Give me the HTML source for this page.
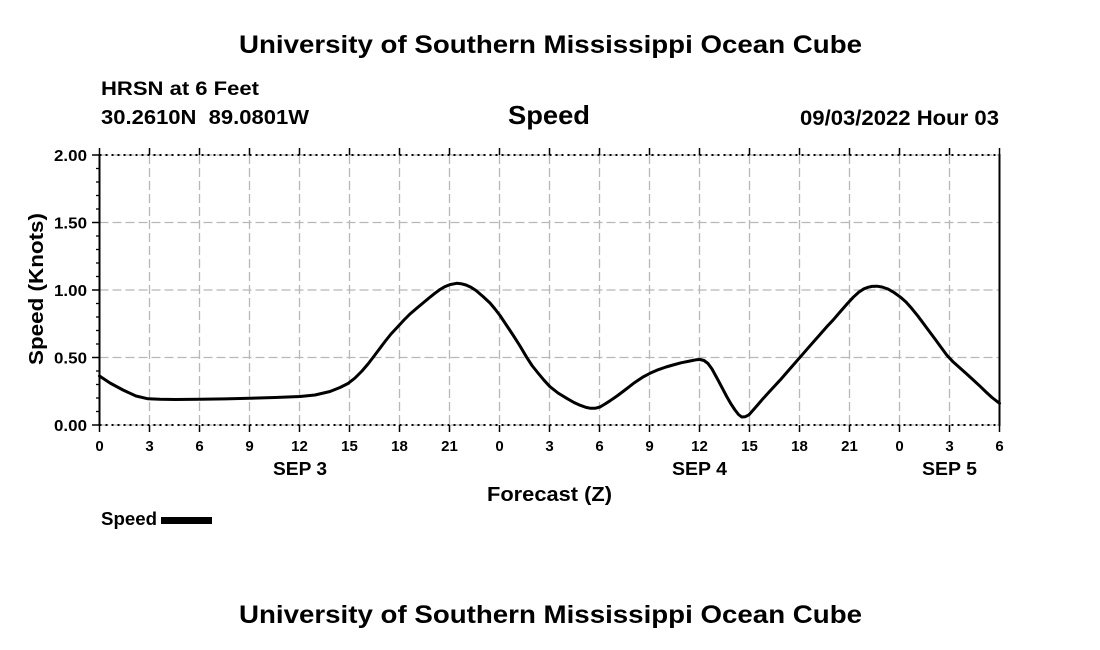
<!DOCTYPE html>
<html>
<head>
<meta charset="utf-8">
<style>
  html, body { margin: 0; padding: 0; background: #ffffff; }
  svg { display: block; }
  text { font-family: "Liberation Sans", Arial, sans-serif; font-weight: bold; fill: #000; }
</style>
</head>
<body>
<svg width="1100" height="650" viewBox="0 0 1100 650" xmlns="http://www.w3.org/2000/svg">
  <rect x="0" y="0" width="1100" height="650" fill="#ffffff"/>

  <!-- Titles -->
  <text x="239" y="53" font-size="25" textLength="623" lengthAdjust="spacingAndGlyphs">University of Southern Mississippi Ocean Cube</text>
  <text x="101" y="95" font-size="19" textLength="158" lengthAdjust="spacingAndGlyphs">HRSN at 6 Feet</text>
  <text x="101" y="124" font-size="20" textLength="208" lengthAdjust="spacingAndGlyphs" xml:space="preserve">30.2610N  89.0801W</text>
  <text x="508" y="124" font-size="26" textLength="82" lengthAdjust="spacingAndGlyphs">Speed</text>
  <text x="800" y="125" font-size="21" textLength="199" lengthAdjust="spacingAndGlyphs">09/03/2022 Hour 03</text>

  <!-- Grid -->
  <g stroke="#b8b8b8" stroke-width="1.3" stroke-dasharray="9 4" fill="none">
    <line x1="99.5" y1="222.5" x2="999.5" y2="222.5"/>
    <line x1="99.5" y1="290" x2="999.5" y2="290"/>
    <line x1="99.5" y1="357.5" x2="999.5" y2="357.5"/>
    <line x1="99.5" y1="155" x2="999.5" y2="155"/>
    <line x1="99.5" y1="425" x2="999.5" y2="425"/>
    <line x1="149.5" y1="155" x2="149.5" y2="425"/>
    <line x1="199.5" y1="155" x2="199.5" y2="425"/>
    <line x1="249.5" y1="155" x2="249.5" y2="425"/>
    <line x1="299.5" y1="155" x2="299.5" y2="425"/>
    <line x1="349.5" y1="155" x2="349.5" y2="425"/>
    <line x1="399.5" y1="155" x2="399.5" y2="425"/>
    <line x1="449.5" y1="155" x2="449.5" y2="425"/>
    <line x1="499.5" y1="155" x2="499.5" y2="425"/>
    <line x1="549.5" y1="155" x2="549.5" y2="425"/>
    <line x1="599.5" y1="155" x2="599.5" y2="425"/>
    <line x1="649.5" y1="155" x2="649.5" y2="425"/>
    <line x1="699.5" y1="155" x2="699.5" y2="425"/>
    <line x1="749.5" y1="155" x2="749.5" y2="425"/>
    <line x1="799.5" y1="155" x2="799.5" y2="425"/>
    <line x1="849.5" y1="155" x2="849.5" y2="425"/>
    <line x1="899.5" y1="155" x2="899.5" y2="425"/>
    <line x1="949.5" y1="155" x2="949.5" y2="425"/>
  </g>

  <!-- Top / bottom dotted axes -->
  <g stroke="#000" stroke-width="2" stroke-dasharray="2 4" fill="none">
    <line x1="99.5" y1="155" x2="999.5" y2="155"/>
    <line x1="99.5" y1="425" x2="999.5" y2="425"/>
  </g>

  <!-- Left / right solid axes -->
  <line x1="99.5" y1="154" x2="99.5" y2="426" stroke="#000" stroke-width="2"/>
  <line x1="999.5" y1="154" x2="999.5" y2="426" stroke="#000" stroke-width="2"/>

  <!-- Top & bottom ticks -->
  <g stroke="#000" stroke-width="1.5">
    <line x1="99.5" y1="148" x2="99.5" y2="155"/><line x1="99.5" y1="425" x2="99.5" y2="432"/>
    <line x1="149.5" y1="148" x2="149.5" y2="155"/><line x1="149.5" y1="425" x2="149.5" y2="432"/>
    <line x1="199.5" y1="148" x2="199.5" y2="155"/><line x1="199.5" y1="425" x2="199.5" y2="432"/>
    <line x1="249.5" y1="148" x2="249.5" y2="155"/><line x1="249.5" y1="425" x2="249.5" y2="432"/>
    <line x1="299.5" y1="148" x2="299.5" y2="155"/><line x1="299.5" y1="425" x2="299.5" y2="432"/>
    <line x1="349.5" y1="148" x2="349.5" y2="155"/><line x1="349.5" y1="425" x2="349.5" y2="432"/>
    <line x1="399.5" y1="148" x2="399.5" y2="155"/><line x1="399.5" y1="425" x2="399.5" y2="432"/>
    <line x1="449.5" y1="148" x2="449.5" y2="155"/><line x1="449.5" y1="425" x2="449.5" y2="432"/>
    <line x1="499.5" y1="148" x2="499.5" y2="155"/><line x1="499.5" y1="425" x2="499.5" y2="432"/>
    <line x1="549.5" y1="148" x2="549.5" y2="155"/><line x1="549.5" y1="425" x2="549.5" y2="432"/>
    <line x1="599.5" y1="148" x2="599.5" y2="155"/><line x1="599.5" y1="425" x2="599.5" y2="432"/>
    <line x1="649.5" y1="148" x2="649.5" y2="155"/><line x1="649.5" y1="425" x2="649.5" y2="432"/>
    <line x1="699.5" y1="148" x2="699.5" y2="155"/><line x1="699.5" y1="425" x2="699.5" y2="432"/>
    <line x1="749.5" y1="148" x2="749.5" y2="155"/><line x1="749.5" y1="425" x2="749.5" y2="432"/>
    <line x1="799.5" y1="148" x2="799.5" y2="155"/><line x1="799.5" y1="425" x2="799.5" y2="432"/>
    <line x1="849.5" y1="148" x2="849.5" y2="155"/><line x1="849.5" y1="425" x2="849.5" y2="432"/>
    <line x1="899.5" y1="148" x2="899.5" y2="155"/><line x1="899.5" y1="425" x2="899.5" y2="432"/>
    <line x1="949.5" y1="148" x2="949.5" y2="155"/><line x1="949.5" y1="425" x2="949.5" y2="432"/>
    <line x1="999.5" y1="148" x2="999.5" y2="155"/><line x1="999.5" y1="425" x2="999.5" y2="432"/>
  </g>

  <!-- Left ticks: major -->
  <g stroke="#000" stroke-width="1.5">
    <line x1="92" y1="155" x2="100" y2="155"/>
    <line x1="92" y1="222.5" x2="100" y2="222.5"/>
    <line x1="92" y1="290" x2="100" y2="290"/>
    <line x1="92" y1="357.5" x2="100" y2="357.5"/>
    <line x1="92" y1="425" x2="100" y2="425"/>
  </g>
  <!-- Left ticks: minor -->
  <g stroke="#000" stroke-width="1.3">
    <line x1="96" y1="168.5" x2="100" y2="168.5"/>
    <line x1="96" y1="182" x2="100" y2="182"/>
    <line x1="96" y1="195.5" x2="100" y2="195.5"/>
    <line x1="96" y1="209" x2="100" y2="209"/>
    <line x1="96" y1="236" x2="100" y2="236"/>
    <line x1="96" y1="249.5" x2="100" y2="249.5"/>
    <line x1="96" y1="263" x2="100" y2="263"/>
    <line x1="96" y1="276.5" x2="100" y2="276.5"/>
    <line x1="96" y1="303.5" x2="100" y2="303.5"/>
    <line x1="96" y1="317" x2="100" y2="317"/>
    <line x1="96" y1="330.5" x2="100" y2="330.5"/>
    <line x1="96" y1="344" x2="100" y2="344"/>
    <line x1="96" y1="371" x2="100" y2="371"/>
    <line x1="96" y1="384.5" x2="100" y2="384.5"/>
    <line x1="96" y1="398" x2="100" y2="398"/>
    <line x1="96" y1="411.5" x2="100" y2="411.5"/>
  </g>

  <!-- Y tick labels -->
  <g font-size="16" text-anchor="end">
    <text x="87" y="161" textLength="33" lengthAdjust="spacingAndGlyphs">2.00</text>
    <text x="87" y="228.5" textLength="33" lengthAdjust="spacingAndGlyphs">1.50</text>
    <text x="87" y="296" textLength="33" lengthAdjust="spacingAndGlyphs">1.00</text>
    <text x="87" y="363.5" textLength="33" lengthAdjust="spacingAndGlyphs">0.50</text>
    <text x="87" y="431" textLength="33" lengthAdjust="spacingAndGlyphs">0.00</text>
  </g>

  <!-- Y axis title -->
  <text transform="translate(43,289) rotate(-90)" text-anchor="middle" font-size="20" textLength="152" lengthAdjust="spacingAndGlyphs">Speed (Knots)</text>

  <!-- X tick labels -->
  <g font-size="15" text-anchor="middle">
    <text x="99.5" y="451">0</text>
    <text x="149.5" y="451">3</text>
    <text x="199.5" y="451">6</text>
    <text x="249.5" y="451">9</text>
    <text x="299.5" y="451">12</text>
    <text x="349.5" y="451">15</text>
    <text x="399.5" y="451">18</text>
    <text x="449.5" y="451">21</text>
    <text x="499.5" y="451">0</text>
    <text x="549.5" y="451">3</text>
    <text x="599.5" y="451">6</text>
    <text x="649.5" y="451">9</text>
    <text x="699.5" y="451">12</text>
    <text x="749.5" y="451">15</text>
    <text x="799.5" y="451">18</text>
    <text x="849.5" y="451">21</text>
    <text x="899.5" y="451">0</text>
    <text x="949.5" y="451">3</text>
    <text x="999.5" y="451">6</text>
  </g>

  <!-- Date labels -->
  <g font-size="18">
    <text x="273" y="475" textLength="54" lengthAdjust="spacingAndGlyphs">SEP 3</text>
    <text x="672" y="475" textLength="55" lengthAdjust="spacingAndGlyphs">SEP 4</text>
    <text x="922" y="475" textLength="55" lengthAdjust="spacingAndGlyphs">SEP 5</text>
  </g>

  <!-- X axis title -->
  <text x="487" y="501" font-size="20" textLength="125" lengthAdjust="spacingAndGlyphs">Forecast (Z)</text>

  <!-- Data series -->
  <polyline fill="none" stroke="#000" stroke-width="3" stroke-linejoin="round" stroke-linecap="round"
    points="99.5,376 110,383 123,390 136,396 148,398.8 160,399.3 175,399.5 200,399.3 225,398.9 250,398.3 275,397.5 300,396.5 315,395 330,391.5 340,387.5 348,383.5 355,378 362,371 368,364 373,357.5 379,349.5 385,341.5 391,334 398,326.5 404,320 410,314 417,308 423,303 429,298 435,293.2 440,289.5 445,286.6 450,284.6 456.7,283.3 461,283.7 466,285 471,287.3 476,290.5 483,296.5 490,303 495,309 500,315.5 506,324.5 513,335 520,346 526.7,357.3 532,365.5 538,373 544,380.2 550,386.7 558,393 566.7,398.3 574,402.5 580,405.2 586,407.4 590,408.2 595,408.3 600,407 605,404 610,400.8 617,396 625,390 634,383 643,377 650,373.3 658,369.8 666,367 673,365 681,362.8 690,361 696,359.8 700,359.5 704,360.5 708,363.5 712,369 718,380 726.7,396.5 731,404 735,410 738.5,414.5 741.7,417 745,416.8 749,414.8 755,408 762,399.8 770,391 780,380.2 790,368.8 800,357.3 810,345.8 820,334.5 827,326.5 833.3,319.8 840,312 847,304 853.3,297.2 859,292 864,288.8 868,287.3 872,286.4 877,286.2 882,287 888,289 894,292.5 900,296.8 906,302 912,308.8 918,316.2 923.3,323.3 929,331 935,339 941,347.2 946.7,355 953,361.8 960,368 967,374.2 973.3,380 980,386.2 986,392 992,397.5 999.5,403.3"/>

  <!-- Legend -->
  <text x="101" y="525" font-size="18" textLength="56" lengthAdjust="spacingAndGlyphs">Speed</text>
  <rect x="161" y="517" width="51" height="7" fill="#000"/>

  <!-- Bottom title -->
  <text x="239" y="623" font-size="25" textLength="623" lengthAdjust="spacingAndGlyphs">University of Southern Mississippi Ocean Cube</text>
</svg>
</body>
</html>
